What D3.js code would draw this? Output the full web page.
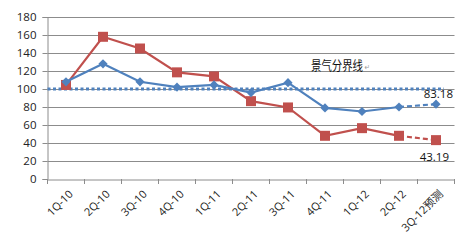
<!DOCTYPE html>
<html>
<head>
<meta charset="utf-8">
<script src="https://cdn.jsdelivr.net/npm/d3@7"></script>
<style>
  body { margin: 0; background: #fff; }
  svg { display: block; }
</style>
</head>
<body>
<svg id="chart" width="474" height="245"></svg>
<script>
// Données
const categories = ["1Q-10", "2Q-10", "3Q-10", "4Q-10", "1Q-11", "2Q-11", "3Q-11", "4Q-11", "1Q-12", "2Q-12", "3Q-12预测"];
const blueValues = [108, 128, 108, 102, 104.5, 96, 107, 79, 75, 80, 83.18];
const redValues = [104.5, 158, 145, 118.5, 114, 86.5, 79.5, 48, 56.5, 48, 43.19];
const yTicks = [0, 20, 40, 60, 80, 100, 120, 140, 160, 180];
const boundary = 100;
const boundaryLabel = "景气分界线";

const blue = "#4f81bd", red = "#c0504d";

const svg = d3.select("#chart");
const plotLeft = 47.5, plotRight = 454.5, plotTop = 17, plotBottom = 179;

const x = d3.scaleBand().domain(categories).range([plotLeft, plotRight]);
const y = d3.scaleLinear().domain([0, 180]).range([plotBottom, plotTop]);
const cx = d => x(d) + x.bandwidth() / 2;

// Grille
svg.append("g").selectAll("line")
  .data(yTicks.filter(t => t > 0))
  .enter().append("line")
  .attr("x1", plotLeft).attr("x2", plotRight)
  .attr("y1", d => Math.round(y(d)) + 0.5).attr("y2", d => Math.round(y(d)) + 0.5)
  .attr("stroke", "#8c8c8c").attr("stroke-width", 1);

// Axe Y
const yAxis = svg.append("g")
  .attr("transform", `translate(${plotLeft},0)`)
  .call(d3.axisLeft(y).tickValues(yTicks).tickSize(5).tickPadding(6));
yAxis.select(".domain").attr("stroke", "#8c8c8c");
yAxis.selectAll(".tick line").attr("stroke", "#8c8c8c");
yAxis.selectAll(".tick text")
  .attr("fill", "#222").style("font-family", "'Open Sans', sans-serif").style("font-size", "11.5px");

// Axe X
const xAxis = svg.append("g")
  .attr("transform", `translate(0,${plotBottom + 0.5})`)
  .call(d3.axisBottom(x).tickSize(0).tickFormat(""));
xAxis.select(".domain").attr("stroke", "#8c8c8c");
svg.append("g").selectAll("line")
  .data(categories.concat(["end"]))
  .enter().append("line")
  .attr("x1", (d, i) => i < categories.length ? x(d) : plotRight)
  .attr("x2", (d, i) => i < categories.length ? x(d) : plotRight)
  .attr("y1", plotBottom).attr("y2", plotBottom + 5)
  .attr("stroke", "#8c8c8c");

svg.append("g").selectAll("text")
  .data(categories)
  .enter().append("text")
  .attr("transform", d => `translate(${cx(d) + 5},${plotBottom + 13}) rotate(-45)`)
  .attr("text-anchor", "end")
  .attr("dy", "0.35em")
  .attr("fill", "#222")
  .style("font-family", "'Open Sans', 'Noto Sans CJK SC', sans-serif")
  .style("font-size", "11px")
  .text(d => d);

// Ligne de référence (pointillés)
svg.append("line")
  .attr("x1", plotLeft).attr("x2", cx(categories[categories.length - 1]) + 8)
  .attr("y1", y(boundary)).attr("y2", y(boundary))
  .attr("stroke", blue).attr("stroke-width", 3).attr("stroke-dasharray", "3,2.5");

const label = svg.append("text")
  .attr("transform", "translate(311,69.5) scale(0.8,1)")
  .style("font-family", "'Noto Sans CJK SC', sans-serif").style("font-size", "13px")
  .attr("fill", "#111");
label.append("tspan").text(boundaryLabel);
label.append("tspan")
  .attr("dx", 2)
  .style("font-family", "'DejaVu Sans', sans-serif").style("font-size", "8px")
  .attr("fill", "#999")
  .text("↵");

// Séries
function drawSeries(values, color, size, angle) {
  const pts = categories.map((c, i) => [cx(c), y(values[i])]);
  const line = d3.line();
  const n = pts.length;
  svg.append("path").attr("d", line(pts.slice(0, n - 1)))
    .attr("fill", "none").attr("stroke", color).attr("stroke-width", 2.2);
  svg.append("path").attr("d", line(pts.slice(n - 2)))
    .attr("fill", "none").attr("stroke", color).attr("stroke-width", 2.2)
    .attr("stroke-dasharray", "5,3");
  svg.append("g").selectAll("path")
    .data(pts)
    .enter().append("path")
    .attr("transform", d => `translate(${d[0]},${d[1]}) rotate(${angle})`)
    .attr("d", d3.symbol().type(d3.symbolSquare).size(size))
    .attr("fill", color);
}

drawSeries(redValues, red, 100, 0);
drawSeries(blueValues, blue, 42, 45);

// Étiquettes des dernières valeurs
const last = categories[categories.length - 1];
svg.append("text")
  .attr("x", cx(last) + 17).attr("y", y(blueValues[blueValues.length - 1]) - 6)
  .attr("text-anchor", "end")
  .style("font-family", "'Open Sans', sans-serif").style("font-size", "11.5px")
  .attr("fill", "#111")
  .text(blueValues[blueValues.length - 1].toFixed(2));
svg.append("text")
  .attr("x", cx(last) + 13).attr("y", y(redValues[redValues.length - 1]) + 21)
  .attr("text-anchor", "end")
  .style("font-family", "'Open Sans', sans-serif").style("font-size", "11.5px")
  .attr("fill", "#111")
  .text(redValues[redValues.length - 1].toFixed(2));
</script>
</body>
</html>
